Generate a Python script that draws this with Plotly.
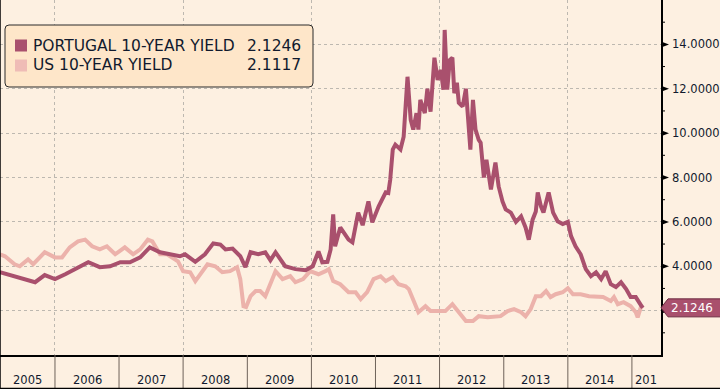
import plotly.graph_objects as go
import pandas as pd

# ---------------- data ----------------
portugal_t = [2005.14, 2005.30, 2005.45, 2005.69, 2005.84, 2006.00, 2006.16, 2006.31, 2006.52, 2006.70,
              2006.86, 2007.02, 2007.17, 2007.33, 2007.48, 2007.64, 2007.80, 2007.95, 2008.03, 2008.19,
              2008.34, 2008.47, 2008.58, 2008.66, 2008.77, 2008.89, 2008.97, 2009.05, 2009.17, 2009.28,
              2009.36, 2009.44, 2009.59, 2009.75, 2009.91, 2010.02, 2010.11, 2010.17, 2010.25, 2010.30,
              2010.34, 2010.37, 2010.45, 2010.58, 2010.64, 2010.73, 2010.80, 2010.89, 2010.95, 2011.05,
              2011.16, 2011.20, 2011.23, 2011.27, 2011.31, 2011.39, 2011.44, 2011.50, 2011.55, 2011.59,
              2011.64, 2011.67, 2011.70, 2011.77, 2011.81, 2011.86, 2011.92, 2011.97, 2012.02, 2012.06,
              2012.08, 2012.12, 2012.16, 2012.20, 2012.23, 2012.27, 2012.30, 2012.36, 2012.41, 2012.45,
              2012.48, 2012.52, 2012.56, 2012.61, 2012.64, 2012.69, 2012.73, 2012.80, 2012.87, 2012.92,
              2012.98, 2013.03, 2013.11, 2013.19, 2013.27, 2013.34, 2013.39, 2013.45, 2013.50, 2013.53,
              2013.58, 2013.62, 2013.70, 2013.77, 2013.84, 2013.92, 2014.00, 2014.05, 2014.12, 2014.20,
              2014.28, 2014.36, 2014.44, 2014.52, 2014.59, 2014.67, 2014.75, 2014.83, 2014.91, 2014.98,
              2015.06, 2015.14, 2015.17]
portugal_v = [3.73, 3.60, 3.50, 3.28, 3.60, 3.42, 3.64, 3.87, 4.18, 3.96,
              4.00, 4.18, 4.18, 4.40, 4.85, 4.63, 4.54, 4.45, 4.54, 4.20,
              4.54, 5.03, 4.98, 4.76, 4.80, 4.45, 3.96, 4.63, 4.54, 4.63,
              4.27, 4.63, 4.00, 3.87, 3.82, 4.00, 4.67, 4.18, 4.20, 4.76,
              6.34, 4.90, 5.75, 5.20, 5.08, 6.42, 5.85, 6.92, 5.98, 6.70,
              7.33, 7.30, 7.90, 9.26, 9.48, 9.26, 9.84, 12.54, 10.60, 10.16,
              10.90, 10.16, 11.50, 10.90, 12.00, 10.97, 13.40, 12.40, 12.85, 11.96,
              14.65, 11.96, 13.30, 13.40, 11.80, 12.27, 11.37, 11.20, 12.00, 10.25,
              9.26, 11.50, 10.16, 9.70, 9.57, 8.00, 8.80, 7.46, 8.67, 7.60,
              6.92, 6.56, 6.42, 6.00, 6.25, 5.75, 5.20, 6.10, 6.47, 7.33,
              6.70, 6.42, 7.33, 6.42, 6.03, 5.90, 6.00, 5.36, 4.90, 4.54,
              3.87, 3.55, 3.73, 3.42, 3.78, 3.19, 3.06, 3.28, 2.97, 2.61,
              2.61, 2.25, 2.12]

us_t = [2005.14, 2005.22, 2005.37, 2005.45, 2005.58, 2005.66, 2005.84, 2006.00, 2006.11, 2006.23,
        2006.36, 2006.47, 2006.58, 2006.70, 2006.81, 2006.94, 2007.09, 2007.22, 2007.33, 2007.45,
        2007.52, 2007.64, 2007.75, 2007.83, 2007.92, 2008.00, 2008.11, 2008.19, 2008.27, 2008.38,
        2008.50, 2008.61, 2008.73, 2008.84, 2008.89, 2008.94, 2008.98, 2009.05, 2009.13, 2009.20,
        2009.28, 2009.36, 2009.44, 2009.55, 2009.67, 2009.75, 2009.87, 2009.98, 2010.11, 2010.22,
        2010.27, 2010.34, 2010.45, 2010.58, 2010.69, 2010.77, 2010.87, 2010.97, 2011.08, 2011.16,
        2011.27, 2011.36, 2011.47, 2011.52, 2011.58, 2011.67, 2011.78, 2011.86, 2011.97, 2012.09,
        2012.20, 2012.30, 2012.41, 2012.52, 2012.61, 2012.75, 2012.87, 2012.95, 2013.06, 2013.16,
        2013.27, 2013.34, 2013.42, 2013.50, 2013.58, 2013.66, 2013.73, 2013.81, 2013.92, 2014.00,
        2014.08, 2014.20, 2014.33, 2014.44, 2014.55, 2014.67, 2014.72, 2014.78, 2014.87, 2014.98,
        2015.06, 2015.09, 2015.14, 2015.17]
us_v = [4.54, 4.45, 4.09, 4.00, 4.31, 4.09, 4.63, 4.40, 4.40, 4.85,
        5.12, 5.20, 4.90, 4.76, 4.90, 4.54, 4.85, 4.54, 4.76, 5.20,
        5.12, 4.54, 4.54, 4.40, 4.22, 3.78, 3.73, 3.33, 3.64, 4.09,
        4.00, 3.73, 3.78, 3.96, 3.42, 2.20, 2.16, 2.65, 2.88, 2.88,
        2.65, 3.28, 3.78, 3.42, 3.55, 3.28, 3.42, 3.78, 3.64, 3.78,
        3.87, 3.33, 3.19, 2.83, 2.83, 2.52, 2.83, 3.42, 3.55, 3.33,
        3.51, 3.19, 3.10, 2.97, 2.52, 1.93, 2.20, 1.98, 1.98, 1.98,
        2.29, 1.93, 1.53, 1.53, 1.75, 1.70, 1.75, 1.75, 1.98, 2.07,
        1.93, 1.75, 2.07, 2.65, 2.65, 2.88, 2.61, 2.74, 2.83, 3.01,
        2.74, 2.74, 2.65, 2.61, 2.61, 2.43, 2.61, 2.29, 2.38, 2.20,
        1.93, 1.70, 2.16, 2.11]

series_names = ["PORTUGAL 10-YEAR YIELD", "US 10-YEAR YIELD"]
last_values = ["2.1246", "2.1117"]
tag_value = 2.1246
year_labels = ["2005", "2006", "2007", "2008", "2009", "2010", "2011", "2012", "2013", "2014", "201"]
y_ticks = [2, 4, 6, 8, 10, 12, 14]
# the 2.0000 label is hidden behind the last-value tag in the reference
y_tick_text = ["", "4.0000", "6.0000", "8.0000", "10.0000", "12.0000", "14.0000"]

# ---------------- styling ----------------
PT_COL = "#a9506d"
US_COL = "#ecb2ab"
BG = "#fdf0e1"
TXT = "#111a2e"
FONT = "DejaVu Sans"

W, H = 720, 389
ML, MR, MT, MB = 0, 59, 0, 34
PW, PH = W - ML - MR, H - MT - MB
YMAX = 16.0
UPX = PH / YMAX  # pixels per unit


def to_date(t):
    y = int(t)
    frac = t - y
    a = pd.Timestamp(year=y, month=1, day=1)
    b = pd.Timestamp(year=y + 1, month=1, day=1)
    return a + (b - a) * frac


def X(px):
    return px / PW


def Y(py):
    return 1 - py / PH


x_start = to_date(2005.142)
x_end = to_date(2015.454)

fig = go.Figure()
fig.add_trace(go.Scatter(x=[to_date(t) for t in us_t], y=us_v, mode="lines",
                         line=dict(color=US_COL, width=4), name=series_names[1],
                         hoverinfo="skip"))
fig.add_trace(go.Scatter(x=[to_date(t) for t in portugal_t], y=portugal_v, mode="lines",
                         line=dict(color=PT_COL, width=4), name=series_names[0],
                         hoverinfo="skip"))

shapes = []
annotations = []

# year band below the plot
for yr in range(2006, 2016):
    shapes.append(dict(type="line", xref="x", yref="paper",
                       x0=pd.Timestamp(year=yr, month=1, day=1), x1=pd.Timestamp(year=yr, month=1, day=1),
                       y0=0, y1=-MB / PH, line=dict(color="#6e6259", width=1)))
for i, lab in enumerate(year_labels):
    yr = 2005 + i
    a = max(pd.Timestamp(year=yr, month=1, day=1), x_start)
    b = min(pd.Timestamp(year=yr + 1, month=1, day=1), x_end)
    mid = a + (b - a) / 2
    annotations.append(dict(x=mid, y=Y(380), xref="x", yref="paper", text=lab, showarrow=False,
                            xanchor="center", yanchor="middle",
                            font=dict(family=FONT, size=11.5, color=TXT)))

# outer frame (left & bottom)
shapes.append(dict(type="line", xref="paper", yref="paper", x0=0, x1=0, y0=Y(H), y1=1,
                   line=dict(color="#000000", width=1.5)))
shapes.append(dict(type="line", xref="paper", yref="paper", x0=0, x1=X(W), y0=Y(H - 0.5), y1=Y(H - 0.5),
                   line=dict(color="#000000", width=1.5)))

# right axis tick marks: triangles on majors, short ticks on minors
for v in y_ticks:
    d = 3 / UPX
    shapes.append(dict(type="path", xref="paper", yref="y",
                       path=f"M 1,{v + d} L {X(PW + 8)},{v} L 1,{v - d} Z",
                       fillcolor="#000000", line=dict(width=0)))
for v in range(1, 16, 2):
    shapes.append(dict(type="line", xref="paper", yref="y", x0=1, x1=X(PW + 4), y0=v, y1=v,
                       line=dict(color="#000000", width=1)))

# last-value tag
h = 9 / UPX
shapes.append(dict(type="path", xref="paper", yref="y",
                   path=(f"M 1,{tag_value} L {X(PW + 7)},{tag_value + h} L {X(W + 2)},{tag_value + h} "
                         f"L {X(W + 2)},{tag_value - h} L {X(PW + 7)},{tag_value - h} Z"),
                   fillcolor=PT_COL, line=dict(color="#6d2a40", width=1)))
annotations.append(dict(x=X(PW + 8), y=tag_value, xref="paper", yref="y", text=last_values[0],
                        showarrow=False, xanchor="left", yanchor="middle",
                        font=dict(family=FONT, size=12, color="#ffffff")))

# legend box
lx0, lx1, ly0, ly1, r = 5, 313, 25, 87, 4
p = (f"M {X(lx0 + r)},{Y(ly0)} L {X(lx1 - r)},{Y(ly0)} Q {X(lx1)},{Y(ly0)} {X(lx1)},{Y(ly0 + r)} "
     f"L {X(lx1)},{Y(ly1 - r)} Q {X(lx1)},{Y(ly1)} {X(lx1 - r)},{Y(ly1)} "
     f"L {X(lx0 + r)},{Y(ly1)} Q {X(lx0)},{Y(ly1)} {X(lx0)},{Y(ly1 - r)} "
     f"L {X(lx0)},{Y(ly0 + r)} Q {X(lx0)},{Y(ly0)} {X(lx0 + r)},{Y(ly0)} Z")
shapes.append(dict(type="path", xref="paper", yref="paper", path=p,
                   fillcolor="#fee6c9", line=dict(color="#2b2b2b", width=1)))
for i, (nm, val, col) in enumerate(zip(series_names, last_values, [PT_COL, "#efbcb6"])):
    cy = 45.5 + 20 * i
    shapes.append(dict(type="rect", xref="paper", yref="paper",
                       x0=X(15), x1=X(27), y0=Y(cy - 6), y1=Y(cy + 6),
                       fillcolor=col, line=dict(width=0)))
    annotations.append(dict(x=X(31), y=Y(cy), xref="paper", yref="paper", text=nm, showarrow=False,
                            xanchor="left", yanchor="middle",
                            font=dict(family=FONT, size=15.5, color=TXT)))
    annotations.append(dict(x=X(303), y=Y(cy), xref="paper", yref="paper", text=val, showarrow=False,
                            xanchor="right", yanchor="middle",
                            font=dict(family=FONT, size=15.5, color=TXT)))

fig.update_layout(
    width=W, height=H,
    margin=dict(l=ML, r=MR, t=MT, b=MB),
    paper_bgcolor=BG, plot_bgcolor=BG,
    showlegend=False,
    shapes=shapes, annotations=annotations,
    xaxis=dict(type="date", range=[x_start, x_end], showticklabels=False, ticks="",
               tick0="2006-01-01", dtick="M24", showgrid=True, gridcolor="#bdb8b0",
               griddash="3px,3px", gridwidth=1, zeroline=False,
               showline=True, linecolor="#000000", linewidth=1.5),
    yaxis=dict(side="right", range=[0, YMAX], tickvals=y_ticks, ticktext=y_tick_text,
               showgrid=True, gridcolor="#bdb8b0", griddash="3px,3px", gridwidth=1,
               zeroline=False, ticks="", ticklabelstandoff=7, automargin=False,
               showline=True, linecolor="#000000", linewidth=1.5,
               tickfont=dict(family=FONT, size=11.5, color=TXT)),
)

fig.write_html("out.html", config={"displayModeBar": False},
               post_script="document.body.style.margin='0';document.body.style.overflow='hidden';")
